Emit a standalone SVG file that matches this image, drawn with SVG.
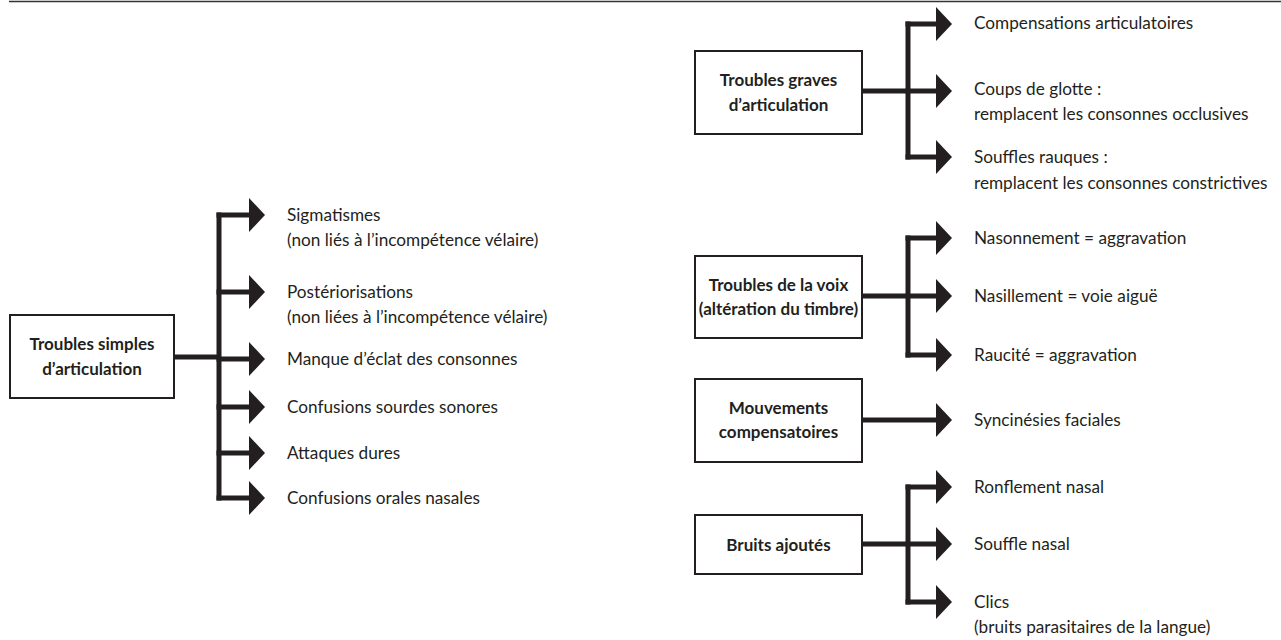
<svg xmlns="http://www.w3.org/2000/svg" width="1281" height="640" viewBox="0 0 1281 640">
<defs>
<style>
.box{fill:#fff;stroke:#231f20;stroke-width:2}
.bt{font-family:Lato,"Liberation Sans",sans-serif;font-weight:bold;font-size:17px;fill:#231f20;text-anchor:middle}
.lt{font-family:Lato,"Liberation Sans",sans-serif;font-size:17.2px;fill:#231f20}
.ln{fill:none;stroke:#231f20;stroke-width:5}
.tr{fill:none;stroke:#231f20;stroke-width:5;stroke-linecap:square}
</style>
<marker id="ah" markerUnits="userSpaceOnUse" markerWidth="16" markerHeight="34" refX="0" refY="17" orient="auto" viewBox="0 0 16 34">
<path d="M0,0 L16,17 L0,34 Z" fill="#231f20"/>
</marker>
</defs>
<rect width="1281" height="640" fill="#fff"/>
<line x1="9" y1="1.5" x2="1281" y2="1.5" stroke="#333" stroke-width="1.5"/>

<g id="connectors">
<path class="tr" d="M219,215 V498"/>
<path class="ln" d="M175,357 H219"/>
<path class="ln" marker-end="url(#ah)" d="M216.5,215 H249"/>
<path class="ln" marker-end="url(#ah)" d="M216.5,292 H249"/>
<path class="ln" marker-end="url(#ah)" d="M216.5,359 H249"/>
<path class="ln" marker-end="url(#ah)" d="M216.5,407 H249"/>
<path class="ln" marker-end="url(#ah)" d="M216.5,453 H249"/>
<path class="ln" marker-end="url(#ah)" d="M216.5,498 H249"/>

<path class="tr" d="M908,24 V157"/>
<path class="ln" d="M863,91 H908"/>
<path class="ln" marker-end="url(#ah)" d="M905.5,24 H936"/>
<path class="ln" marker-end="url(#ah)" d="M905.5,91 H936"/>
<path class="ln" marker-end="url(#ah)" d="M905.5,157 H936"/>

<path class="tr" d="M908,238 V355"/>
<path class="ln" d="M863,296 H908"/>
<path class="ln" marker-end="url(#ah)" d="M905.5,238 H936"/>
<path class="ln" marker-end="url(#ah)" d="M905.5,296 H936"/>
<path class="ln" marker-end="url(#ah)" d="M905.5,355 H936"/>

<path class="ln" marker-end="url(#ah)" d="M863,420 H936"/>

<path class="tr" d="M908,487 V602"/>
<path class="ln" d="M863,544 H908"/>
<path class="ln" marker-end="url(#ah)" d="M905.5,487 H936"/>
<path class="ln" marker-end="url(#ah)" d="M905.5,544 H936"/>
<path class="ln" marker-end="url(#ah)" d="M905.5,602 H936"/>
</g>

<g id="simples">
<rect class="box" x="10" y="315" width="164" height="83"/>
<text class="bt" x="92" y="350">Troubles simples</text>
<text class="bt" x="92" y="375">d’articulation</text>
</g>
<g id="graves">
<rect class="box" x="695" y="51" width="167" height="83"/>
<text class="bt" x="778.5" y="86">Troubles graves</text>
<text class="bt" x="778.5" y="111">d’articulation</text>
</g>
<g id="voix">
<rect class="box" x="695" y="256" width="167" height="82"/>
<text class="bt" x="778.5" y="291">Troubles de la voix</text>
<text class="bt" x="778.5" y="315">(altération du timbre)</text>
</g>
<g id="mouvements">
<rect class="box" x="695" y="379" width="167" height="83"/>
<text class="bt" x="778.5" y="414">Mouvements</text>
<text class="bt" x="778.5" y="438">compensatoires</text>
</g>
<g id="bruits">
<rect class="box" x="695" y="515" width="167" height="59"/>
<text class="bt" x="778.5" y="551">Bruits ajoutés</text>
</g>

<g id="labels-left">
<text class="lt" x="287" y="221">Sigmatismes</text>
<text class="lt" x="287" y="246">(non liés à l’incompétence vélaire)</text>
<text class="lt" x="287" y="298">Postériorisations</text>
<text class="lt" x="287" y="323">(non liées à l’incompétence vélaire)</text>
<text class="lt" x="287" y="365">Manque d’éclat des consonnes</text>
<text class="lt" x="287" y="413">Confusions sourdes sonores</text>
<text class="lt" x="287" y="459">Attaques dures</text>
<text class="lt" x="287" y="504">Confusions orales nasales</text>
</g>
<g id="labels-right">
<text class="lt" x="974" y="29">Compensations articulatoires</text>
<text class="lt" x="974" y="95">Coups de glotte :</text>
<text class="lt" x="974" y="120">remplacent les consonnes occlusives</text>
<text class="lt" x="974" y="163">Souffles rauques :</text>
<text class="lt" x="974" y="189">remplacent les consonnes constrictives</text>
<text class="lt" x="974" y="244">Nasonnement = aggravation</text>
<text class="lt" x="974" y="302">Nasillement = voie aiguë</text>
<text class="lt" x="974" y="361">Raucité = aggravation</text>
<text class="lt" x="974" y="426">Syncinésies faciales</text>
<text class="lt" x="974" y="493">Ronflement nasal</text>
<text class="lt" x="974" y="550">Souffle nasal</text>
<text class="lt" x="974" y="608">Clics</text>
<text class="lt" x="974" y="633">(bruits parasitaires de la langue)</text>
</g>
</svg>
